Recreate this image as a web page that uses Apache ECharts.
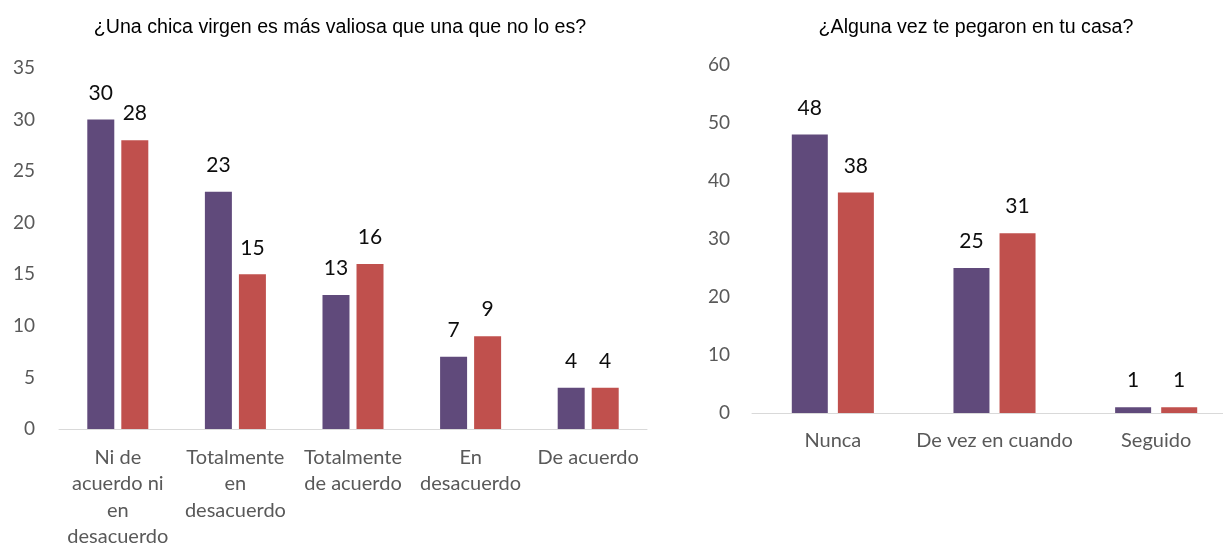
<!DOCTYPE html>
<html>
<head>
<meta charset="utf-8">
<script src="https://cdn.jsdelivr.net/npm/echarts@6/dist/echarts.min.js"></script>
<style>
  html, body { margin: 0; padding: 0; background: #fff; }
  #chart { width: 1223px; height: 543px; }
</style>
</head>
<body>
<div id="chart"></div>
<script>
// left chart data
const leftTitle = '¿Una chica virgen es más valiosa que una que no lo es?';
const leftCategories = ['Ni de\nacuerdo ni\nen\ndesacuerdo', 'Totalmente\nen\ndesacuerdo', 'Totalmente\nde acuerdo', 'En\ndesacuerdo', 'De acuerdo'];
const leftSeriesA = [30, 23, 13, 7, 4];
const leftSeriesB = [28, 15, 16, 9, 4];

// right chart data
const rightTitle = '¿Alguna vez te pegaron en tu casa?';
const rightCategories = ['Nunca', 'De vez en cuando', 'Seguido'];
const rightSeriesA = [48, 25, 1];
const rightSeriesB = [38, 31, 1];

const purple = '#604A7B';
const red = '#C0504D';
const tickColor = '#595959';
const bodyFont = 'Lato, "Open Sans", sans-serif';
const titleFont = '"Liberation Sans", Arial, sans-serif';

const chart = echarts.init(document.getElementById('chart'), null, { renderer: 'canvas' });

const catAxis = (gridIndex, data, margin) => ({
    type: 'category',
    gridIndex: gridIndex,
    data: data,
    axisTick: { show: false },
    axisLine: { lineStyle: { color: '#d9d9d9', width: 1 } },
    axisLabel: {
        color: tickColor,
        fontFamily: bodyFont,
        fontSize: 20,
        lineHeight: 26.5,
        margin: margin,
        interval: 0
    }
});

const valAxis = (gridIndex, max, interval, margin) => ({
    type: 'value',
    gridIndex: gridIndex,
    min: 0,
    max: max,
    interval: interval,
    splitLine: { show: false },
    axisLine: { show: false },
    axisTick: { show: false },
    axisLabel: {
        color: tickColor,
        fontFamily: bodyFont,
        fontSize: 19,
        margin: margin
    }
});

const barLabel = {
    show: true,
    position: 'top',
    distance: 16,
    color: '#0d0d0d',
    fontFamily: bodyFont,
    fontSize: 21
};

const option = {
    animation: false,
    title: [
        {
            text: leftTitle,
            left: 335,
            top: 13,
            textAlign: 'center',
            textStyle: { fontFamily: titleFont, fontWeight: 'normal', fontSize: 19.6, color: '#000' }
        },
        {
            text: rightTitle,
            left: 971,
            top: 13,
            textAlign: 'center',
            textStyle: { fontFamily: titleFont, fontWeight: 'normal', fontSize: 19.6, color: '#000' }
        }
    ],
    grid: [
        { left: 59, top: 68, width: 588, height: 361, outerBoundsMode: 'none', containLabel: false },
        { left: 752, top: 65, width: 485, height: 348, outerBoundsMode: 'none', containLabel: false }
    ],
    xAxis: [
        catAxis(0, leftCategories, 15),
        catAxis(1, rightCategories, 14)
    ],
    yAxis: [
        valAxis(0, 35, 5, 24),
        valAxis(1, 60, 10, 22)
    ],
    series: [
        {
            type: 'bar', xAxisIndex: 0, yAxisIndex: 0,
            data: leftSeriesA, barWidth: 27, barGap: '26%',
            itemStyle: { color: purple }, label: barLabel
        },
        {
            type: 'bar', xAxisIndex: 0, yAxisIndex: 0,
            data: leftSeriesB, barWidth: 27, barGap: '26%',
            itemStyle: { color: red }, label: barLabel
        },
        {
            type: 'bar', xAxisIndex: 1, yAxisIndex: 1,
            data: rightSeriesA, barWidth: 36, barGap: '28%',
            itemStyle: { color: purple }, label: barLabel
        },
        {
            type: 'bar', xAxisIndex: 1, yAxisIndex: 1,
            data: rightSeriesB, barWidth: 36, barGap: '28%',
            itemStyle: { color: red }, label: barLabel
        }
    ]
};

chart.setOption(option);
</script>
</body>
</html>
